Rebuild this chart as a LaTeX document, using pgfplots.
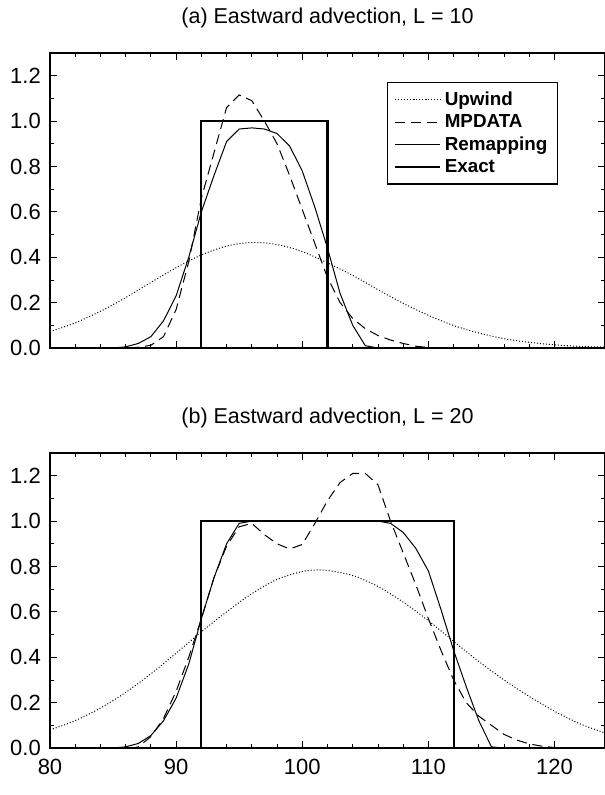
\documentclass[border=0pt]{standalone}
\usepackage{pgfplots}
\pgfplotsset{compat=1.18}
\usepackage{fontspec}
\setmainfont{Liberation Sans}

\pgfplotsset{
  panel/.style={
    scale only axis, width=333pt, height=177pt,
    xmin=80, xmax=124, ymin=0, ymax=1.3,
    xtick={80,90,100,110,120}, minor x tick num=4,
    ytick={0,0.2,0.4,0.6,0.8,1.0,1.2}, minor y tick num=1,
    tick align=inside,
    major tick length=4pt, minor tick length=2.5pt,
    tick style={line width=0.5pt, black},
    /pgf/number format/assume math mode=true,
    yticklabel style={xshift=-2pt, /pgf/number format/.cd, fixed, fixed zerofill, precision=1},
    tick label style={font=\fontsize{13.2}{15}\selectfont},
    xticklabel style={yshift=-3pt},
    title style={font=\fontsize{12.9}{15}\selectfont, yshift=5.5pt},
    axis line style={line width=0.8pt},
    clip=true,
  },
  upw/.style={black, line width=0.6pt, dash pattern=on 0.6pt off 1.2pt, smooth},
  mpd/.style={black, line width=0.6pt, dash pattern=on 6pt off 3.5pt},
  rem/.style={black, line width=0.6pt},
  exa/.style={black, line width=1.3pt},
}

\begin{document}
\begin{tikzpicture}
\path[use as bounding box] (-30pt,-268.2pt) rectangle (333pt,208.8pt);
\begin{axis}[panel, at={(0,0)},
  title={(a) Eastward advection, L = 10},
  xticklabels={},
  legend style={at={(0.607,0.902)}, anchor=north west, draw=black, line width=0.8pt,
    font=\bfseries\fontsize{11.3}{13.8}\selectfont, inner xsep=4pt, inner ysep=3.5pt,
    row sep=0pt, legend cell align=left},
  legend image code/.code={\draw[#1] plot coordinates {(0cm,0cm) (0.95cm,0cm)};},
]
\addplot[upw] coordinates {(80,0.072) (82,0.111) (84,0.162) (86,0.222) (88,0.289) (90,0.354) (92,0.410) (94,0.449) (96,0.465) (98,0.456) (100,0.425) (102,0.375) (104,0.320) (106,0.257) (108,0.197) (110,0.144) (112,0.099) (114,0.066) (116,0.041) (118,0.025) (120,0.014) (122,0.007) (124,0.004)};
\addlegendentry{Upwind}
\addplot[mpd] coordinates {(80,0) (86,0) (87,0.003) (88,0.012) (89,0.05) (90,0.17) (91,0.38) (92,0.66) (93,0.86) (94,1.06) (95,1.115) (96,1.09) (97,1.0) (98,0.9) (99,0.76) (100,0.61) (101,0.46) (102,0.31) (103,0.20) (104,0.13) (105,0.085) (106,0.055) (107,0.035) (108,0.02) (109,0.008) (110,0.002) (111,0) (124,0)};
\addlegendentry{MPDATA}
\addplot[rem] coordinates {(80,0) (85,0) (86,0.005) (87,0.02) (88,0.05) (89,0.12) (90,0.23) (91,0.40) (92,0.60) (93,0.76) (94,0.91) (95,0.965) (96,0.97) (97,0.965) (98,0.945) (99,0.89) (100,0.78) (101,0.62) (102,0.44) (103,0.24) (104,0.10) (105,0.01) (106,0) (124,0)};
\addlegendentry{Remapping}
\addplot[exa] coordinates {(80,0) (92,0) (92,1) (102,1) (102,0) (124,0)};
\addlegendentry{Exact}
\end{axis}

\begin{axis}[panel, at={(0,-240pt)},
  title={(b) Eastward advection, L = 20},
]
\addplot[upw] coordinates {(80,0.080) (82,0.121) (84,0.176) (86,0.245) (88,0.327) (90,0.418) (92,0.512) (94,0.60) (96,0.68) (98,0.743) (100,0.778) (101.3,0.785) (102,0.783) (104,0.760) (106,0.712) (108,0.643) (110,0.561) (112,0.470) (114,0.381) (116,0.30) (118,0.227) (120,0.162) (122,0.107) (124,0.066)};
\addplot[mpd] coordinates {(80,0) (86.5,0) (87,0.005) (88,0.05) (89,0.13) (90,0.25) (91,0.40) (92,0.57) (93,0.75) (94,0.89) (95,0.975) (96,0.99) (97,0.94) (98,0.90) (99,0.877) (100,0.897) (101,0.99) (102,1.09) (103,1.17) (104,1.21) (105,1.21) (106,1.16) (107,1.0) (108,0.86) (109,0.72) (110,0.57) (111,0.43) (112,0.30) (113,0.20) (114,0.14) (115,0.10) (116,0.06) (117,0.035) (118,0.018) (119,0.008) (120,0.002) (121,0) (124,0)};
\addplot[rem] coordinates {(80,0) (85,0) (86,0.005) (87,0.02) (88,0.055) (89,0.12) (90,0.22) (91,0.37) (92,0.57) (93,0.75) (94,0.90) (95,0.99) (96,1.0) (106,1.0) (107,0.99) (108,0.95) (109,0.88) (110,0.78) (111,0.61) (112,0.43) (113,0.27) (114,0.12) (115,0.005) (116,0) (124,0)};
\addplot[exa] coordinates {(80,0) (92,0) (92,1) (112,1) (112,0) (124,0)};
\end{axis}
\end{tikzpicture}
\end{document}
